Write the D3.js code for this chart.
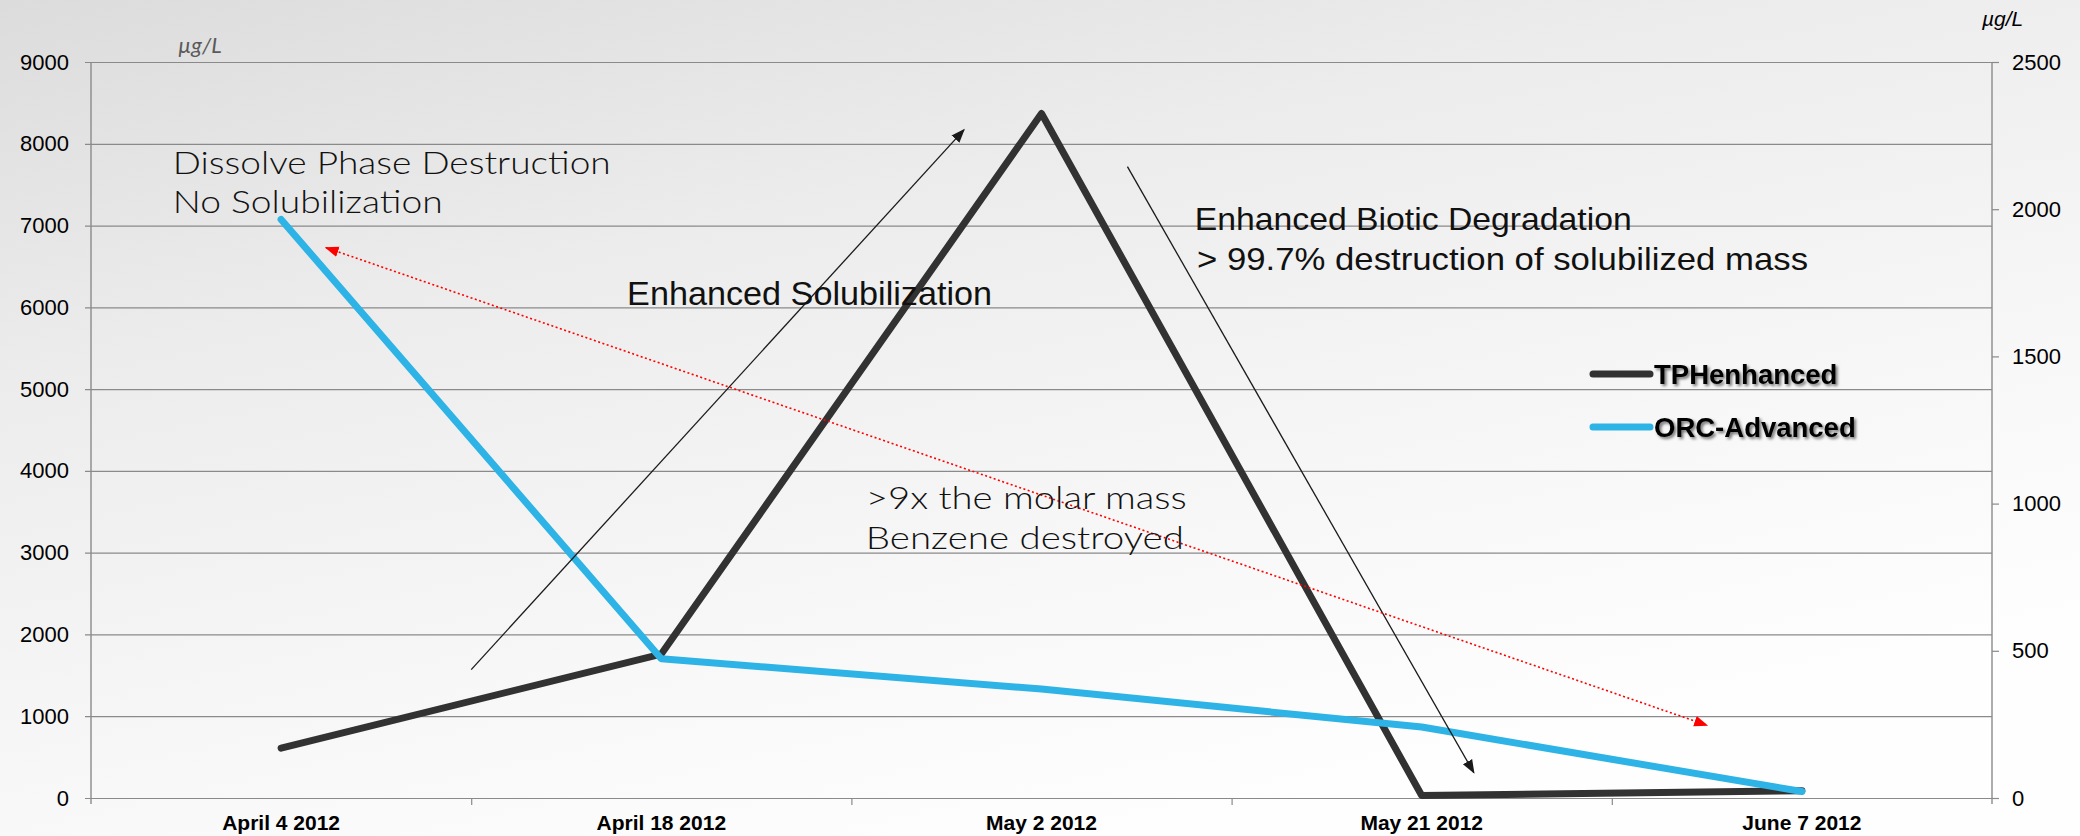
<!DOCTYPE html>
<html>
<head>
<meta charset="utf-8">
<script src="https://cdn.jsdelivr.net/npm/d3@7"></script>
<style>
  html, body { margin: 0; padding: 0; background: #fff; }
  svg { display: block; }
</style>
</head>
<body>
<svg id="chart" width="2080" height="836"></svg>
<script>
// ---- data ----
const categories = ["April 4 2012", "April 18 2012", "May 2 2012", "May 21 2012", "June 7 2012"];
const tphEnhanced = [610, 1760, 8370, 30, 90];      // left axis, µg/L
const orcAdvanced = [1965, 473, 370, 241, 22];      // right axis, µg/L
const leftTicks = [0, 1000, 2000, 3000, 4000, 5000, 6000, 7000, 8000, 9000];
const rightTicks = [0, 500, 1000, 1500, 2000, 2500];
const seriesNames = ["TPHenhanced", "ORC-Advanced"];

// ---- layout ----
const W = 2080, H = 836;
const margin = { top: 62, right: 88, bottom: 38, left: 91 };
const plotW = W - margin.left - margin.right;
const plotH = H - margin.top - margin.bottom;

const svg = d3.select("#chart");
const defs = svg.append("defs");

// soft grey backdrop, darker toward the upper left
const bg = defs.append("linearGradient").attr("id", "bg")
  .attr("x1", "0%").attr("y1", "0%").attr("x2", "55%").attr("y2", "100%");
bg.append("stop").attr("offset", "0%").attr("stop-color", "#dcdcdc");
bg.append("stop").attr("offset", "35%").attr("stop-color", "#ececec");
bg.append("stop").attr("offset", "75%").attr("stop-color", "#f8f8f8");
bg.append("stop").attr("offset", "100%").attr("stop-color", "#fefefe");
svg.append("rect").attr("width", W).attr("height", H).attr("fill", "url(#bg)");

const shadow = defs.append("filter").attr("id", "shadow")
  .attr("x", "-10%").attr("y", "-30%").attr("width", "130%").attr("height", "170%");
shadow.append("feDropShadow").attr("dx", 2).attr("dy", 2).attr("stdDeviation", 1.6)
  .attr("flood-color", "#000").attr("flood-opacity", 0.55);

function marker(id, color, size) {
  defs.append("marker").attr("id", id)
    .attr("viewBox", "0 0 10 10").attr("refX", 9).attr("refY", 5)
    .attr("markerUnits", "userSpaceOnUse")
    .attr("markerWidth", size).attr("markerHeight", size)
    .attr("orient", "auto-start-reverse")
    .append("path").attr("d", "M0,1.2 L10,5 L0,8.8 Z").attr("fill", color);
}
marker("arrowBlack", "#1a1a1a", 14);
marker("arrowRed", "#ff0000", 14);

const g = svg.append("g").attr("transform", `translate(${margin.left},${margin.top})`);

// ---- scales ----
const x = d3.scaleBand().domain(categories).range([0, plotW]);
const xc = c => x(c) + x.bandwidth() / 2;
// fractional category position, used for annotations
const xi = d3.scaleLinear().domain([0, categories.length - 1])
  .range([xc(categories[0]), xc(categories[categories.length - 1])]);
const yL = d3.scaleLinear().domain([0, 9000]).range([plotH, 0]);
const yR = d3.scaleLinear().domain([0, 2500]).range([plotH, 0]);

const gridColor = "#8a8a8a";
const tickFont = "'Liberation Sans', Arial, sans-serif";

// ---- left axis with horizontal gridlines ----
const axL = g.append("g").call(
  d3.axisLeft(yL).tickValues(leftTicks).tickSize(6).tickPadding(16).tickFormat(d3.format("d"))
);
axL.select(".domain").remove();
axL.selectAll(".tick line").attr("x1", plotW).attr("x2", -6)
  .attr("stroke", gridColor).attr("stroke-width", 1.2);
axL.selectAll(".tick text").attr("font-family", tickFont).attr("font-size", 22).attr("fill", "#000");
g.append("line").attr("x1", 0).attr("x2", 0).attr("y1", 0).attr("y2", plotH + 6)
  .attr("stroke", gridColor).attr("stroke-width", 1.4);

// ---- right axis ----
const axR = g.append("g").attr("transform", `translate(${plotW},0)`).call(
  d3.axisRight(yR).tickValues(rightTicks).tickSize(7).tickPadding(13).tickFormat(d3.format("d"))
);
axR.select(".domain").remove();
axR.selectAll(".tick line").attr("stroke", gridColor).attr("stroke-width", 1.2);
axR.selectAll(".tick text").attr("font-family", tickFont).attr("font-size", 22).attr("fill", "#000");
g.append("line").attr("x1", plotW).attr("x2", plotW).attr("y1", 0).attr("y2", plotH + 6)
  .attr("stroke", gridColor).attr("stroke-width", 1.4);

// ---- bottom axis: tick marks between categories, labels centred ----
const xEdges = d3.scaleLinear().domain([0, categories.length]).range([0, plotW]);
const axBTicks = g.append("g").attr("transform", `translate(0,${plotH})`).call(
  d3.axisBottom(xEdges).tickValues(d3.range(1, categories.length)).tickSize(7).tickFormat("")
);
axBTicks.select(".domain").remove();
axBTicks.selectAll(".tick line").attr("stroke", gridColor).attr("stroke-width", 1.2);

const axB = g.append("g").attr("transform", `translate(0,${plotH})`).call(
  d3.axisBottom(x).tickSize(0).tickPadding(17)
);
axB.select(".domain").remove();
axB.selectAll(".tick text").attr("font-family", tickFont).attr("font-size", 21)
  .attr("font-weight", "bold").attr("fill", "#000");

// ---- unit labels ----
svg.append("text").attr("x", 178).attr("y", 53).text("µg/L")
  .attr("font-family", "Lato, 'DejaVu Sans', sans-serif").attr("font-style", "italic")
  .attr("font-size", 22).attr("fill", "#5a5a5a");
svg.append("text").attr("x", 1982).attr("y", 26).text("µg/L")
  .attr("font-family", tickFont).attr("font-style", "italic")
  .attr("font-size", 21).attr("fill", "#000");

// ---- series lines ----
const lineL = d3.line().x((d, i) => xc(categories[i])).y(d => yL(d));
const lineR = d3.line().x((d, i) => xc(categories[i])).y(d => yR(d));

g.append("path").datum(tphEnhanced).attr("d", lineL)
  .attr("fill", "none").attr("stroke", "#323232").attr("stroke-width", 7)
  .attr("stroke-linejoin", "round").attr("stroke-linecap", "round");
g.append("path").datum(orcAdvanced).attr("d", lineR)
  .attr("fill", "none").attr("stroke", "#2db3e5").attr("stroke-width", 7)
  .attr("stroke-linejoin", "round").attr("stroke-linecap", "round");

// ---- annotation arrows (category index, left-axis value) ----
const arrows = [
  { from: [0.50, 1570], to: [1.796, 8170], color: "#1a1a1a", width: 1.3, dash: null, both: false },
  { from: [2.226, 7720], to: [3.137, 310], color: "#1a1a1a", width: 1.3, dash: null, both: false },
  { from: [0.118, 6730], to: [3.75, 890], color: "#ff0000", width: 1.6, dash: "2,2.5", both: true }
];
arrows.forEach(a => {
  const id = a.color === "#ff0000" ? "arrowRed" : "arrowBlack";
  const ln = g.append("line")
    .attr("x1", xi(a.from[0])).attr("y1", yL(a.from[1]))
    .attr("x2", xi(a.to[0])).attr("y2", yL(a.to[1]))
    .attr("stroke", a.color).attr("stroke-width", a.width)
    .attr("marker-end", `url(#${id})`);
  if (a.dash) ln.attr("stroke-dasharray", a.dash);
  if (a.both) ln.attr("marker-start", `url(#${id})`);
});

// ---- annotation texts (category index, left-axis value of baseline) ----
const gothic = "Lato, 'DejaVu Sans', sans-serif";
const narrow = "'Liberation Sans Narrow', 'Arial Narrow', 'Liberation Sans', sans-serif";
const notes = [
  { text: "Dissolve Phase Destruction", at: [-0.285, 7632], font: gothic, size: 32, width: 438 },
  { text: "No Solubilization", at: [-0.285, 7148], font: gothic, size: 32, width: 270 },
  { text: "Enhanced Solubilization", at: [0.910, 6030], font: tickFont, size: 33, width: 365 },
  { text: "Enhanced Biotic Degradation", at: [2.403, 6950], font: narrow, size: 32, width: 437 },
  { text: "> 99.7% destruction of solubilized mass", at: [2.409, 6460], font: narrow, size: 32, width: 611 },
  { text: ">9x the molar mass", at: [1.538, 3540], font: gothic, size: 31, width: 321 },
  { text: "Benzene destroyed", at: [1.538, 3050], font: gothic, size: 31, width: 318 }
];
notes.forEach(n => {
  g.append("text").attr("x", xi(n.at[0])).attr("y", yL(n.at[1]))
    .attr("font-family", n.font).attr("font-size", n.size).attr("fill", "#111")
    .attr("font-weight", n.font === gothic ? 300 : 400)
    .attr("textLength", n.width).attr("lengthAdjust", "spacingAndGlyphs")
    .text(n.text);
});

// ---- legend ----
const legendColors = ["#323232", "#2db3e5"];
const legend = svg.append("g").attr("transform", "translate(1593,374)");
seriesNames.forEach((name, i) => {
  const row = legend.append("g").attr("transform", `translate(0,${i * 53})`);
  row.append("line").attr("x1", 0).attr("x2", 57).attr("y1", 0).attr("y2", 0)
    .attr("stroke", legendColors[i]).attr("stroke-width", 7).attr("stroke-linecap", "round");
  row.append("text").attr("x", 61).attr("y", 10)
    .attr("font-family", tickFont).attr("font-weight", "bold").attr("font-size", 27.5)
    .attr("fill", "#000").attr("filter", "url(#shadow)").text(name);
});
</script>
</body>
</html>
